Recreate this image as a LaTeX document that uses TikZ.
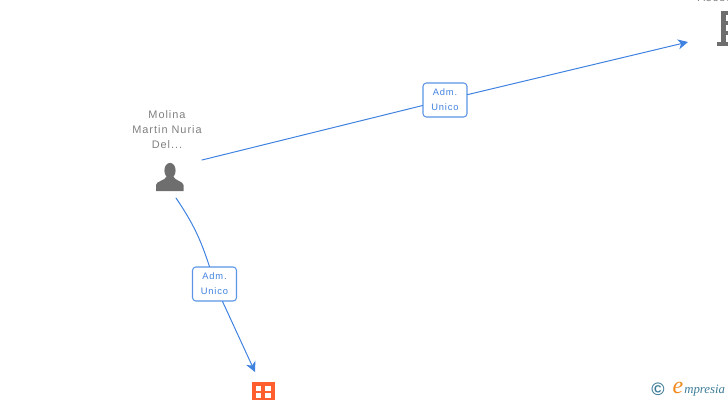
\documentclass[tikz,border=0pt]{standalone}
\usepackage{fontspec}
\usetikzlibrary{arrows.meta}
\setmainfont{Liberation Sans}
\newfontfamily\spacedfont[LetterSpace=9]{Liberation Sans}
\newfontfamily\logofont{Liberation Serif}
\definecolor{linkblue}{HTML}{3F82E0}
\definecolor{namegray}{HTML}{7F7F7F}
\definecolor{icongray}{HTML}{6E6E6E}
\definecolor{orgorange}{HTML}{FF5F2E}
\definecolor{logoteal}{HTML}{3D7C98}
\definecolor{logoorange}{HTML}{F08A1D}
\begin{document}
\begin{tikzpicture}[
  x=0.75pt,
  y=-0.75pt,
  line cap=round,
  line join=round,
  link/.style={draw=linkblue, line width=0.75pt},
  arrowlink/.style={link, -{Stealth[length=7.5pt,width=7.5pt,inset=2.2pt]}},
  rolebox/.style={draw=linkblue!85, line width=0.8pt, fill=white, rounded corners=2.5pt,
    minimum width=33pt, minimum height=25.5pt, inner sep=0pt, align=center,
    text=linkblue, font=\spacedfont\fontsize{7}{11.2}\selectfont},
  namelabel/.style={text=namegray, align=center, inner sep=0pt,
    font=\spacedfont\fontsize{8.2}{11.2}\selectfont}
]
  \useasboundingbox (0,0) rectangle (728,400);
  \clip (0,0) rectangle (728,400);

  % Name above the person
  \node[namelabel] (molinaname) at (167,130) {Molina\\Martin Nuria\\Del...};

  % Person icon
  \fill[icongray] (170,170.5) ellipse (5.6 and 7.6);
  \fill[icongray] (156,191) -- (156,185) .. controls (156,181) and (165,181) .. (167,176)
    -- (173,176) .. controls (175,181) and (183,181) .. (183.5,185) -- (183.5,191) -- cycle;

  % Name of the company, cut by the top edge
  \node[namelabel, anchor=base] (companyname) at (724,1.5) {Asesores};

  % Building icon
  \fill[icongray] (717,42) rectangle (730,45.5);
  \fill[icongray] (721,11) rectangle (725.5,42);
  \fill[icongray] (725,11) rectangle (730,14.5);
  \fill[icongray] (725,21) rectangle (730,25);
  \fill[icongray] (725,31) rectangle (730,35);

  % Orange company icon
  \fill[orgorange] (252,382) rectangle (275,400);
  \fill[white] (255.5,386) rectangle (261,390.5);
  \fill[white] (265,386) rectangle (270.5,390.5);
  \fill[white] (255.5,393) rectangle (261,397.5);
  \fill[white] (265,393) rectangle (270.5,397.5);

  % Free ends of the connectors
  \coordinate (molinaright) at (202,160);
  \coordinate (molinadown) at (176,198);
  \coordinate (companyin) at (688,42);
  \coordinate (orgin) at (255,372);

  % Role boxes
  \node[rolebox] (roleupper) at (445,100) {Adm.\\Unico};
  \node[rolebox] (rolelower) at (214.5,284) {Adm.\\Unico};

  % Connectors
  \draw[link] (molinaright) -- (roleupper);
  \draw[arrowlink] (roleupper) -- (companyin);
  \draw[link] (molinadown) to[bend left=8] (rolelower);
  \draw[arrowlink] (rolelower) -- (orgin);

  % Logo
  \node[text=logoteal, inner sep=0pt, font=\bfseries\fontsize{13.5}{13.5}\selectfont] (logomark) at (658,389) {©};
  \node[text=logoorange, inner sep=0pt, font=\logofont\itshape\fontsize{18}{18}\selectfont] (logoe) at (678,387.5) {e};
  \node[text=logoteal, inner sep=0pt, anchor=base west, font=\logofont\itshape\fontsize{9.6}{9.6}\selectfont] (logotext) at (684,393) {mpresia};
\end{tikzpicture}
\end{document}
